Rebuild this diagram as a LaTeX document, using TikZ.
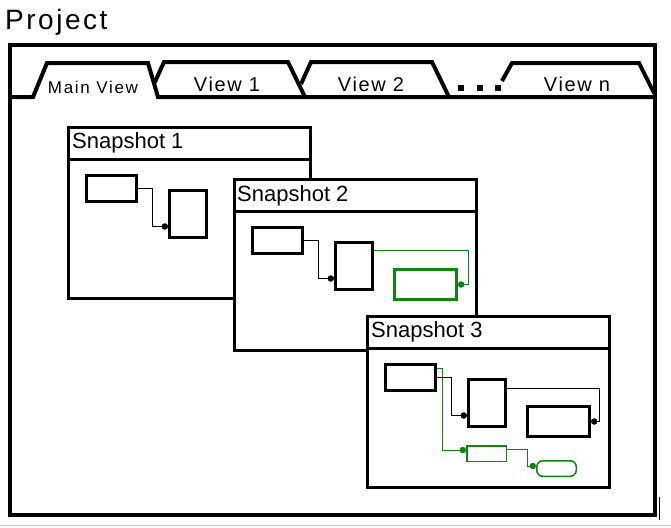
\documentclass[tikz,border=0pt]{standalone}
\usepackage{fontspec}
\setmainfont{Liberation Sans}
\usepackage{tikz}
\usetikzlibrary{arrows}
\definecolor{wiregreen}{RGB}{16,132,16}
\tikzstyle{frame} = [draw=black, line width=4.5pt]
\tikzstyle{tabline} = [draw=black, line width=4pt]
\tikzstyle{tablabel} = [inner sep=0pt, anchor=base, font=\fontsize{20}{24}\selectfont\addfontfeature{LetterSpace=8}]
\tikzstyle{dotmark} = [rectangle, fill=black, inner sep=0pt, minimum width=6pt, minimum height=6pt]
\tikzstyle{snapshot} = [rectangle, minimum width=242pt, minimum height=171pt, draw=black, fill=white, line width=3pt]
\tikzstyle{titlebar} = [draw=black, line width=3pt]
\tikzstyle{title} = [inner sep=0pt, anchor=base west, font=\fontsize{22}{26}\selectfont]
\tikzstyle{inbox} = [rectangle, minimum width=50pt, minimum height=26pt, draw=black, line width=3pt]
\tikzstyle{gatebox} = [rectangle, minimum width=37pt, minimum height=47pt, draw=black, line width=3pt]
\tikzstyle{outbox} = [rectangle, minimum width=62pt, minimum height=30pt, draw=black, line width=3pt]
\tikzstyle{greenbox} = [rectangle, minimum width=39.5pt, minimum height=15.5pt, draw=wiregreen, line width=1.5pt]
\tikzstyle{wire} = [draw=black, line width=1pt, -*]
\tikzstyle{gwire} = [draw=wiregreen, line width=1pt, -*]

\begin{document}
\begin{tikzpicture}[x=1pt, y=-1pt]
        \useasboundingbox (0,0) rectangle (671,527);
        % Project frame and tabs
        \node (project) [inner sep=0pt, anchor=base west, font=\fontsize{28}{32}\selectfont\addfontfeature{LetterSpace=9}] at (5,30) {Project};
        \draw [frame] (10,45) rectangle (655,515);
        \draw [tabline] (10,97) -- (33,97) -- (47,63) -- (148,63) -- (158,97) -- (655,97);
        \draw [tabline] (154,84) -- (164,62) -- (288,62) -- (305,97);
        \draw [tabline] (301,84) -- (311,62) -- (432,62) -- (449,97);
        \draw [tabline] (502,81) -- (512,63) -- (639,63) -- (654,93);
        \node (mainview) [tablabel, font=\fontsize{17}{20}\selectfont\addfontfeature{LetterSpace=10}] at (93,93) {Main View};
        \node (view1) [tablabel] at (227,91) {View 1};
        \node (view2) [tablabel] at (371,91) {View 2};
        \node (viewn) [tablabel] at (577,91) {View n};
        \node (dot1) [dotmark] at (461,88) {};
        \node (dot2) [dotmark] at (480,88) {};
        \node (dot3) [dotmark] at (498,88) {};

        % Snapshot 1
        \node (snap1) [snapshot] at (189.5,213) {};
        \draw [titlebar] ([yshift=-33pt]snap1.north west) -- ([yshift=-33pt]snap1.north east);
        \node (title1) [title] at (72,148) {Snapshot 1};
        \node (snap1_a) [inbox] at (111.5,188.5) {};
        \node (snap1_b) [gatebox] at (188,214) {};
        \draw [wire] (snap1_a.east) -- ++(14,0) |- ([yshift=-12.5pt]snap1_b.west);

        % Snapshot 2
        \node (snap2) [snapshot] at (355.5,265) {};
        \draw [titlebar] ([yshift=-33pt]snap2.north west) -- ([yshift=-33pt]snap2.north east);
        \node (title2) [title] at (237,201) {Snapshot 2};
        \node (snap2_a) [inbox] at (277.5,240.5) {};
        \node (snap2_b) [gatebox] at (354,266) {};
        \node (snap2_c) [outbox, draw=wiregreen] at (425.5,284.5) {};
        \draw [wire] (snap2_a.east) -- ++(14,0) |- ([yshift=-12.5pt]snap2_b.west);
        \draw [gwire] ([yshift=16pt]snap2_b.east) -| ([xshift=10pt]snap2_c.east) -- (snap2_c.east);

        % Snapshot 3
        \node (snap3) [snapshot] at (488.5,402) {};
        \draw [titlebar] ([yshift=-33pt]snap3.north west) -- ([yshift=-33pt]snap3.north east);
        \node (title3) [title] at (371,337) {Snapshot 3};
        \node (snap3_a) [inbox] at (410.5,377.5) {};
        \node (snap3_b) [gatebox] at (487,403) {};
        \node (snap3_c) [outbox] at (558.5,421.5) {};
        \node (snap3_d) [greenbox] at (486.5,453.5) {};
        \node (snap3_e) [greenbox, rounded corners=6pt] at (556.5,468.5) {};
        \draw [gwire] ([yshift=9pt]snap3_a.east) -- ++(5,0) |- ([yshift=3.5pt]snap3_d.west);
        \draw [wire] (snap3_a.east) -- ++(14,0) |- ([yshift=-12.5pt]snap3_b.west);
        \draw [wire] ([yshift=15pt]snap3_b.east) -| ([xshift=8pt]snap3_c.east) -- (snap3_c.east);
        \draw [gwire] ([yshift=4pt]snap3_d.east) -- ++(20,0) |- ([yshift=2.5pt]snap3_e.west);

        % Window edge
        \draw [gray!40, line width=1pt] (0,525) -- (671,525);
        \draw [line width=0.8pt] (659,497) -- (659,520);
    \end{tikzpicture}
\end{document}
